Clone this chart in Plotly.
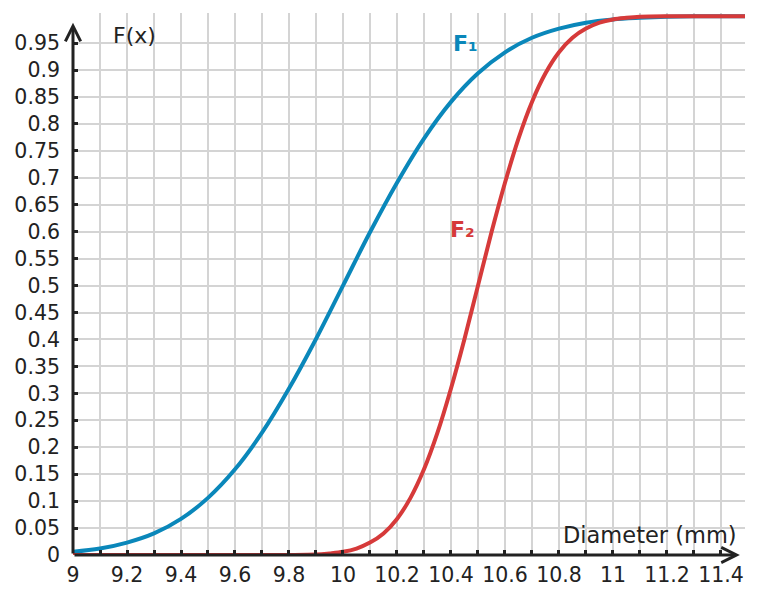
import plotly.graph_objects as go

# values
x_f1 = [9.0, 9.1, 9.2, 9.3, 9.4, 9.5, 9.6, 9.7, 9.8, 9.9, 10.0, 10.1, 10.2, 10.3,
        10.4, 10.5, 10.6, 10.7, 10.8, 10.9, 11.0, 11.1, 11.2, 11.3, 11.4, 11.49]
f1 = [0.006, 0.012, 0.023, 0.040, 0.067, 0.106, 0.159, 0.227, 0.309, 0.401, 0.500,
      0.599, 0.691, 0.773, 0.841, 0.894, 0.933, 0.960, 0.977, 0.988, 0.994, 0.997,
      0.999, 1.0, 1.0, 1.0]

x_f2 = [9.0, 9.5, 9.9, 9.95, 10.0, 10.05, 10.1, 10.15, 10.2, 10.25, 10.3, 10.35,
        10.4, 10.45, 10.5, 10.55, 10.6, 10.65, 10.7, 10.75, 10.8, 10.85, 10.9,
        10.95, 11.0, 11.05, 11.1, 11.2, 11.3, 11.49]
f2 = [0.0, 0.0, 0.001, 0.003, 0.006, 0.012, 0.023, 0.040, 0.067, 0.106, 0.159, 0.227,
      0.309, 0.401, 0.500, 0.599, 0.691, 0.773, 0.841, 0.894, 0.933, 0.960, 0.977,
      0.988, 0.994, 0.997, 0.999, 1.0, 1.0, 1.0]

x_ticks = [9, 9.2, 9.4, 9.6, 9.8, 10, 10.2, 10.4, 10.6, 10.8, 11, 11.2, 11.4]
x_labels = ["9", "9.2", "9.4", "9.6", "9.8", "10", "10.2", "10.4", "10.6", "10.8",
            "11", "11.2", "11.4"]
y_ticks = [i * 0.05 for i in range(20)]
y_labels = ["0", "0.05", "0.1", "0.15", "0.2", "0.25", "0.3", "0.35", "0.4", "0.45",
            "0.5", "0.55", "0.6", "0.65", "0.7", "0.75", "0.8", "0.85", "0.9", "0.95"]

BLUE = "#0a87ba"
RED = "#d63a3a"
INK = "#222222"
GRID = "#d4d4d4"
FONT = "DejaVu Sans"

fig = go.Figure()
fig.add_trace(go.Scatter(x=x_f1, y=f1, mode="lines", name="F1",
                         line=dict(color=BLUE, width=4, shape="spline")))
fig.add_trace(go.Scatter(x=x_f2, y=f2, mode="lines", name="F2",
                         line=dict(color=RED, width=4, shape="spline")))

# axes with arrow heads
fig.add_annotation(x=11.47, y=0, ax=9, ay=0, xref="x", yref="y", axref="x", ayref="y",
                   text="", showarrow=True, arrowhead=5, arrowsize=1, arrowwidth=3,
                   arrowcolor=INK)
fig.add_annotation(x=9, y=0.988, ax=9, ay=0, xref="x", yref="y", axref="x", ayref="y",
                   text="", showarrow=True, arrowhead=5, arrowsize=1, arrowwidth=3,
                   arrowcolor=INK)

fig.add_annotation(x=9.226, y=0.965, text="F(x)", showarrow=False, xanchor="center",
                   font=dict(family=FONT, size=22, color=INK))
fig.add_annotation(x=11.137, y=0.037, text="Diameter (mm)", showarrow=False,
                   xanchor="center", font=dict(family=FONT, size=22.5, color=INK))
fig.add_annotation(x=10.452, y=0.95, text="<b>F₁</b>", showarrow=False,
                   font=dict(family=FONT, size=22, color=BLUE))
fig.add_annotation(x=10.441, y=0.605, text="<b>F₂</b>", showarrow=False,
                   font=dict(family=FONT, size=22, color=RED))

fig.update_xaxes(range=[9, 11.489], tickvals=x_ticks, ticktext=x_labels,
                 ticks="inside", ticklen=5, tickwidth=2.5, tickcolor=INK,
                 showgrid=True, gridcolor=GRID, gridwidth=2, zeroline=False,
                 showline=False, automargin=False, ticklabelstandoff=5,
                 minor=dict(dtick=0.1, tick0=9, ticks="inside", ticklen=5,
                            tickwidth=2.5, tickcolor=INK, showgrid=True,
                            gridcolor=GRID, gridwidth=2),
                 tickfont=dict(family=FONT, size=20.5, color=INK))
fig.update_yaxes(range=[0, 1.006], tickvals=y_ticks, ticktext=y_labels,
                 ticks="inside", ticklen=5, tickwidth=2.5, tickcolor=INK,
                 showgrid=True, gridcolor=GRID, gridwidth=2, zeroline=False,
                 showline=False, automargin=False, ticklabelstandoff=12,
                 tickfont=dict(family=FONT, size=20.5, color=INK))

# the page puts the figure 8px in from the top-left corner
fig.update_layout(width=756, height=596, showlegend=False,
                  plot_bgcolor="white", paper_bgcolor="white",
                  margin=dict(l=65, r=19, t=5, b=49))

fig.write_html("out.html")
